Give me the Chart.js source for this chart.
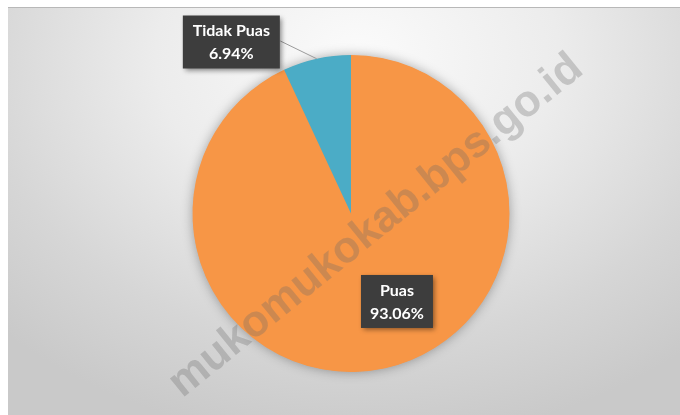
<!DOCTYPE html>
<html>
<head>
<meta charset="utf-8">
<script src="https://cdn.jsdelivr.net/npm/chart.js"></script>
<style>
  html, body { margin: 0; padding: 0; background: #fff; }
  #wrap {
    position: absolute; left: 8px; top: 7px; width: 672px; height: 408px;
    border-top: 1px solid #b8b8b8; box-sizing: border-box;
    background: radial-gradient(ellipse 75% 95% at 52% 12%, #fbfbfb 0%, #ececec 40%, #d6d6d6 75%, #c9c9c9 100%);
  }
</style>
</head>
<body>
<div id="wrap"><canvas id="myChart"></canvas></div>
<script>
// Survey answers
const categories = ['Puas', 'Tidak Puas'];
const percentages = [93.06, 6.94];
const sliceColors = ['#F79646', '#4BACC6'];

// Soft shadow behind the whole pie
const pieShadow = {
  id: 'pieShadow',
  beforeDatasetsDraw(chart) {
    const arc = chart.getDatasetMeta(0).data[0];
    if (!arc) return;
    const ctx = chart.ctx;
    ctx.save();
    ctx.shadowColor = 'rgba(0,0,0,0.35)';
    ctx.shadowBlur = 12;
    ctx.fillStyle = '#F79646';
    ctx.beginPath();
    ctx.arc(arc.x, arc.y, arc.outerRadius - 0.5, 0, Math.PI * 2);
    ctx.fill();
    ctx.restore();
  }
};

// Diagonal site watermark
const watermark = {
  id: 'watermark',
  afterDatasetsDraw(chart) {
    const ctx = chart.ctx;
    ctx.save();
    ctx.translate(368, 218);
    ctx.rotate(-39 * Math.PI / 180);
    ctx.font = 'bold 44px "Liberation Sans", Arial, sans-serif';
    ctx.fillStyle = 'rgba(105,105,105,0.3)';
    ctx.textAlign = 'center';
    ctx.textBaseline = 'middle';
    ctx.fillText('mukomukokab.bps.go.id', 0, 0);
    ctx.restore();
  }
};

// Dark callout boxes with name and percentage
function drawCallout(ctx, cx, cy, w, h, lines) {
  ctx.save();
  ctx.shadowColor = 'rgba(0,0,0,0.45)';
  ctx.shadowBlur = 5;
  ctx.shadowOffsetX = 2;
  ctx.shadowOffsetY = 2;
  ctx.fillStyle = '#3d3d3d';
  ctx.fillRect(cx - w / 2, cy - h / 2, w, h);
  ctx.restore();
  ctx.save();
  ctx.fillStyle = '#ffffff';
  ctx.font = 'bold 16px Lato, "Open Sans", sans-serif';
  ctx.textAlign = 'center';
  ctx.textBaseline = 'middle';
  ctx.fillText(lines[0], cx, cy - 11);
  ctx.fillText(lines[1], cx, cy + 12);
  ctx.restore();
}

const callouts = {
  id: 'callouts',
  afterDraw(chart) {
    const ctx = chart.ctx;
    const arcs = chart.getDatasetMeta(0).data;
    const ds = chart.data.datasets[0].data;
    const fmt = v => v.toFixed(2) + '%';

    // Puas: inside the big slice
    const a0 = arcs[0];
    const r = a0.outerRadius;
    drawCallout(ctx, a0.x + 0.29 * r, a0.y + 0.555 * r, 72, 53,
      [chart.data.labels[0], fmt(ds[0])]);

    // Tidak Puas: outside, with a leader line to the slice edge
    const a1 = arcs[1];
    const mid = (a1.startAngle + a1.endAngle) / 2;
    const ex = a1.x + Math.cos(mid) * a1.outerRadius;
    const ey = a1.y + Math.sin(mid) * a1.outerRadius;
    const bx = a1.x - 0.755 * r, by = a1.y - 1.082 * r;
    ctx.save();
    ctx.strokeStyle = '#9a9a9a';
    ctx.lineWidth = 1;
    ctx.beginPath();
    ctx.moveTo(bx + 49, by - 1);
    ctx.lineTo(ex, ey);
    ctx.stroke();
    ctx.restore();
    drawCallout(ctx, bx, by, 97, 53, [chart.data.labels[1], fmt(ds[1])]);
  }
};

new Chart(document.getElementById('myChart').getContext('2d'), {
  type: 'pie',
  data: {
    labels: categories,
    datasets: [{
      data: percentages,
      backgroundColor: sliceColors,
      borderWidth: 0,
      hoverOffset: 0
    }]
  },
  options: {
    responsive: true,
    maintainAspectRatio: false,
    animation: false,
    layout: { padding: { top: 47, bottom: 43, left: 14, right: 0 } },
    plugins: {
      legend: { display: false },
      tooltip: { enabled: false }
    }
  },
  plugins: [pieShadow, watermark, callouts]
});
</script>
</body>
</html>
